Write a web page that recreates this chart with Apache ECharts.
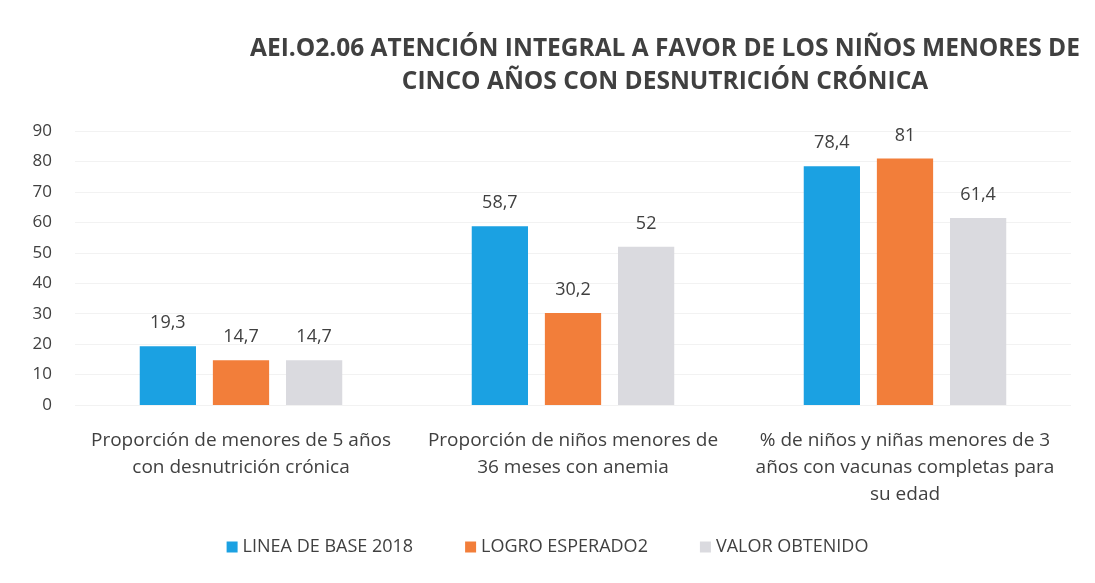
<!DOCTYPE html>
<html>
<head>
<meta charset="utf-8">
<script src="https://cdn.jsdelivr.net/npm/echarts@6/dist/echarts.min.js"></script>
<style>
  html, body { margin: 0; padding: 0; background: #fff; }
  #chart { width: 1095px; height: 583px; }
</style>
</head>
<body>
<div id="chart"></div>
<script>
var categories = [
  'Proporción de menores de 5 años\ncon desnutrición crónica',
  'Proporción de niños menores de\n36 meses con anemia',
  '% de niños y niñas menores de 3\naños con vacunas completas para\nsu edad'
];
var lineaBase = [19.3, 58.7, 78.4];
var logroEsperado = [14.7, 30.2, 81];
var valorObtenido = [14.7, 52, 61.4];
var seriesNames = ['LINEA DE BASE 2018', 'LOGRO ESPERADO2', 'VALOR OBTENIDO'];
var colors = ['#1ba1e2', '#f27e3a', '#dadadf'];

var font = 'Open Sans, Noto Sans, sans-serif';
var textColor = '#404040';

function fmt(p) {
  return String(p.value).replace('.', ',');
}

function barSeries(name, data) {
  return {
    name: name,
    type: 'bar',
    data: data,
    barGap: '30%',
    barCategoryGap: '39%',
    label: {
      show: true,
      position: 'top',
      distance: 14,
      formatter: fmt,
      color: textColor,
      fontSize: 18,
      fontFamily: font
    }
  };
}

var chart = echarts.init(document.getElementById('chart'));
chart.setOption({
  color: colors,
  title: {
    text: 'AEI.O2.06 ATENCIÓN INTEGRAL A FAVOR DE LOS NIÑOS MENORES DE\nCINCO AÑOS CON DESNUTRICIÓN CRÓNICA',
    left: 660,
    top: 28,
    textAlign: 'center',
    textStyle: {
      color: textColor,
      fontSize: 24.5,
      fontWeight: 'bold',
      fontFamily: font,
      lineHeight: 33
    }
  },
  legend: {
    bottom: 22,
    left: 'center',
    itemWidth: 11,
    itemHeight: 11,
    itemGap: 52,
    icon: 'rect',
    textStyle: { color: textColor, fontSize: 18, fontFamily: font }
  },
  grid: { left: 75, right: 24, top: 131, bottom: 178 },
  xAxis: {
    type: 'category',
    data: categories,
    axisLine: { show: false },
    axisTick: { show: false },
    axisLabel: {
      color: textColor,
      fontSize: 19,
      fontFamily: font,
      lineHeight: 27,
      margin: 22,
      interval: 0
    }
  },
  yAxis: {
    type: 'value',
    min: 0,
    max: 90,
    interval: 10,
    axisLine: { show: false },
    axisTick: { show: false },
    axisLabel: { color: textColor, fontSize: 17, fontFamily: font, margin: 23 },
    splitLine: { lineStyle: { color: '#f2f2f2' } }
  },
  series: [
    barSeries(seriesNames[0], lineaBase),
    barSeries(seriesNames[1], logroEsperado),
    barSeries(seriesNames[2], valorObtenido)
  ]
});
</script>
</body>
</html>
